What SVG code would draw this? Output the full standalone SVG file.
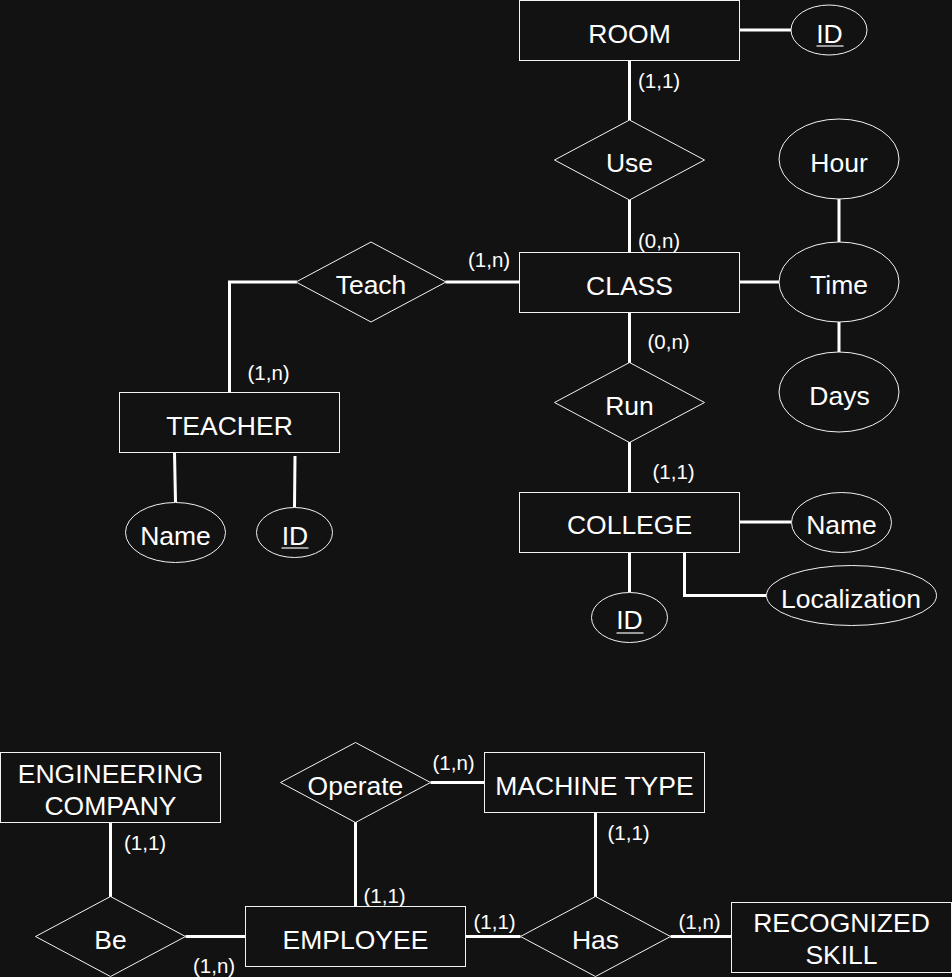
<svg xmlns="http://www.w3.org/2000/svg" width="952" height="977" viewBox="0 0 952 977">
<style>
.bg{fill:#121212}
.ent,.rel,.att{fill:#121212;stroke:#f2f2f2;stroke-width:1}
.t{font-family:"Liberation Sans",Arial,Helvetica,sans-serif;font-size:26.5px;fill:#ffffff;text-anchor:middle}
.c{font-family:"Liberation Sans",Arial,Helvetica,sans-serif;font-size:20.5px;fill:#ffffff;text-anchor:start}
.ul{stroke:#9a9a9a;stroke-width:2}
.ln{fill:none;stroke:#ffffff;stroke-width:3}
</style>
<rect class="bg" x="0" y="0" width="952" height="977"/>

<g id="connectors">
<line class="ln" x1="739.5" y1="30" x2="791" y2="30"/>
<line class="ln" x1="629.5" y1="61" x2="629.5" y2="120"/>
<line class="ln" x1="629.5" y1="200" x2="629.5" y2="252"/>
<line class="ln" x1="445.5" y1="282" x2="519.5" y2="282"/>
<polyline class="ln" points="297,282 229.5,282 229.5,392"/>
<line class="ln" x1="739.5" y1="282" x2="779" y2="282"/>
<line class="ln" x1="839" y1="199" x2="839" y2="242"/>
<line class="ln" x1="839" y1="322" x2="839" y2="352"/>
<line class="ln" x1="629.5" y1="312" x2="629.5" y2="363"/>
<line class="ln" x1="629.5" y1="442" x2="629.5" y2="492"/>
<line class="ln" x1="739.5" y1="522" x2="791.5" y2="522"/>
<polyline class="ln" points="684.5,552 684.5,595.5 766,595.5"/>
<line class="ln" x1="629.5" y1="552" x2="629.5" y2="592"/>
<line class="ln" x1="174.5" y1="453" x2="175.5" y2="502"/>
<line class="ln" x1="295" y1="456" x2="294.5" y2="507"/>
<line class="ln" x1="110.5" y1="822" x2="110.5" y2="897"/>
<line class="ln" x1="185.5" y1="936.5" x2="245.5" y2="936.5"/>
<line class="ln" x1="355.5" y1="822" x2="355.5" y2="906"/>
<line class="ln" x1="430.5" y1="782.5" x2="484.5" y2="782.5"/>
<line class="ln" x1="595.5" y1="812.5" x2="595.5" y2="897"/>
<line class="ln" x1="465.5" y1="936.5" x2="520.5" y2="936.5"/>
<line class="ln" x1="670.5" y1="936.5" x2="731.5" y2="936.5"/>
<text class="c" x="638" y="88">(1,1)</text>
<text class="c" x="638" y="248">(0,n)</text>
<text class="c" x="468" y="267">(1,n)</text>
<text class="c" x="247.5" y="380">(1,n)</text>
<text class="c" x="647.5" y="349">(0,n)</text>
<text class="c" x="652.5" y="479">(1,1)</text>
<text class="c" x="124" y="850">(1,1)</text>
<text class="c" x="193" y="973">(1,n)</text>
<text class="c" x="363.5" y="903">(1,1)</text>
<text class="c" x="432.5" y="769.5">(1,n)</text>
<text class="c" x="607.5" y="839.5">(1,1)</text>
<text class="c" x="473.5" y="928.5">(1,1)</text>
<text class="c" x="678.5" y="928.5">(1,n)</text>
</g>

<g id="room"><rect class="ent" x="519.5" y="0.5" width="220" height="60"/><text class="t" x="629.5" y="42.5">ROOM</text></g>
<g id="room-id"><ellipse class="att" cx="829" cy="30" rx="38" ry="25"/><text class="t" x="829.5" y="43">ID</text><line class="ul" x1="816.5" y1="46" x2="843.5" y2="46"/></g>
<g id="use"><polygon class="rel" points="629.5,120 704.5,160 629.5,200 554.5,160"/><text class="t" x="629.5" y="172">Use</text></g>
<g id="hour"><ellipse class="att" cx="839" cy="159" rx="60" ry="40"/><text class="t" x="839" y="171.5">Hour</text></g>
<g id="class"><rect class="ent" x="519.5" y="252.5" width="220" height="60"/><text class="t" x="629.5" y="294.5">CLASS</text></g>
<g id="time"><ellipse class="att" cx="839" cy="282" rx="60" ry="40"/><text class="t" x="839" y="294">Time</text></g>
<g id="teach"><polygon class="rel" points="371,242 446,282 371,322 296,282"/><text class="t" x="371" y="293.5">Teach</text></g>
<g id="days"><ellipse class="att" cx="839" cy="392" rx="60" ry="40"/><text class="t" x="839.5" y="405">Days</text></g>
<g id="run"><polygon class="rel" points="629.5,362.5 704.5,402.5 629.5,442.5 554.5,402.5"/><text class="t" x="629.5" y="415">Run</text></g>
<g id="teacher"><rect class="ent" x="119.5" y="392.5" width="220" height="60"/><text class="t" x="229.5" y="434.5">TEACHER</text></g>
<g id="teacher-name"><ellipse class="att" cx="175.5" cy="532.5" rx="50" ry="30"/><text class="t" x="175.5" y="544.5">Name</text></g>
<g id="teacher-id"><ellipse class="att" cx="294.5" cy="532.5" rx="38" ry="25"/><text class="t" x="295" y="544.5">ID</text><line class="ul" x1="281.5" y1="548" x2="308.5" y2="548"/></g>
<g id="college"><rect class="ent" x="519.5" y="492.5" width="220" height="60"/><text class="t" x="629.5" y="533.5">COLLEGE</text></g>
<g id="college-name"><ellipse class="att" cx="841.5" cy="522.5" rx="50" ry="30"/><text class="t" x="841.5" y="533.5">Name</text></g>
<g id="localization"><ellipse class="att" cx="851.5" cy="595.5" rx="85" ry="30"/><text class="t" x="851" y="607.5">Localization</text></g>
<g id="college-id"><ellipse class="att" cx="629.5" cy="617.5" rx="38" ry="25"/><text class="t" x="629.5" y="628.5">ID</text><line class="ul" x1="616.5" y1="633" x2="643.5" y2="633"/></g>

<g id="engineering-company"><rect class="ent" x="0.5" y="752.5" width="220" height="70"/><text class="t" x="110.5" y="782.5">ENGINEERING</text><text class="t" x="110.5" y="815">COMPANY</text></g>
<g id="operate"><polygon class="rel" points="355.5,742.5 430.5,782.5 355.5,822.5 280.5,782.5"/><text class="t" x="355.5" y="794.5">Operate</text></g>
<g id="machine-type"><rect class="ent" x="484.5" y="752.5" width="220" height="60"/><text class="t" x="594.5" y="794.5">MACHINE TYPE</text></g>
<g id="be"><polygon class="rel" points="110.5,896.5 185.5,936.5 110.5,976.5 35.5,936.5"/><text class="t" x="110.5" y="948.5">Be</text></g>
<g id="employee"><rect class="ent" x="245.5" y="906.5" width="220" height="60"/><text class="t" x="355.5" y="948.5">EMPLOYEE</text></g>
<g id="has"><polygon class="rel" points="595.5,896.5 670.5,936.5 595.5,976.5 520.5,936.5"/><text class="t" x="595.5" y="948.5">Has</text></g>
<g id="recognized-skill"><rect class="ent" x="731.5" y="902.5" width="220" height="70"/><text class="t" x="841.5" y="931.5">RECOGNIZED</text><text class="t" x="841.5" y="963.5">SKILL</text></g>
</svg>
